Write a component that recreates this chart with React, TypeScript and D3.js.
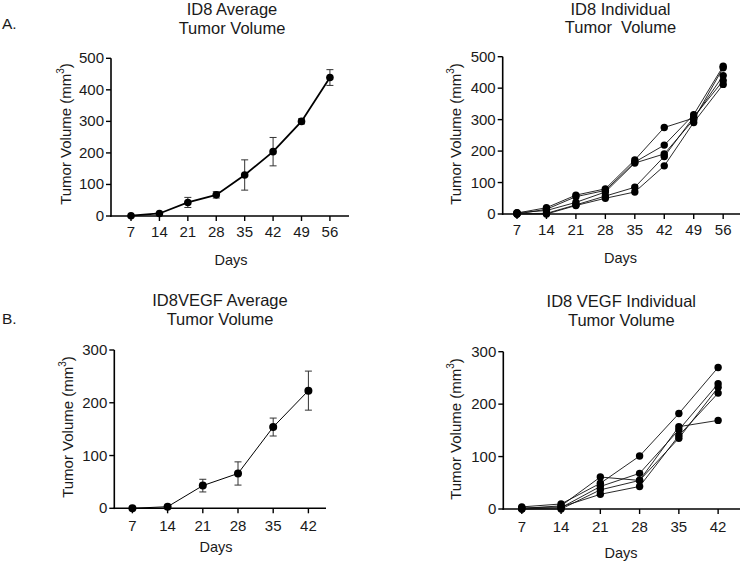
import React from "react";
import * as d3 from "d3";

// ---------- data ----------
const daysID8 = [7, 14, 21, 28, 35, 42, 49, 56];
const id8Mean = [1, 8, 43, 67, 130, 204, 300, 439];
const id8Err = [1, 3, 16, 10, 48, 45, 8, 25];
const id8Individual = [
  [3, 20, 60, 80, 172, 275, 305, 440],
  [0, 15, 55, 75, 165, 219, 316, 470],
  [4, 11, 37, 70, 162, 191, 300, 465],
  [1, 2, 29, 57, 85, 183, 308, 424],
  [0, 0, 27, 50, 70, 153, 291, 412],
];

const daysVEGF = [7, 14, 21, 28, 35, 42];
const vegfMean = [0, 3, 43, 66, 154, 223];
const vegfErr = [0, 1, 12, 22, 17, 37];
const vegfIndividual = [
  [4, 9.6, 49, 101, 182, 270],
  [1, 6, 61, 54.5, 157, 169],
  [0, 2.5, 43, 68, 151, 239],
  [0, 0, 36.5, 54.5, 135, 232],
  [2, 4, 28, 43, 140, 221],
];

const yTicksID8 = [0, 100, 200, 300, 400, 500];
const yTicksVEGF = [0, 100, 200, 300];

const FONT = "'Liberation Sans', Arial, sans-serif";
const TXT = "#1a1a1a";

type PanelProps = {
  days: number[];
  xDomain: [number, number];
  xRange: [number, number];
  yMax: number;
  yRange: [number, number];
  yTicks: number[];
  title1: string;
  title2: string;
  titleX: number;
  title1Y: number;
  title2Y: number;
  daysX: number;
  daysY: number;
  yLabelX: number;
  yLabelY: number;
  xLabelY: number;
  mean?: number[];
  err?: number[];
  individual?: number[][];
  lineWidth: number;
  r: number;
};

function Panel(p: PanelProps) {
  const x = d3.scaleLinear().domain(p.xDomain).range(p.xRange);
  const y = d3.scaleLinear().domain([0, p.yMax]).range(p.yRange);
  const line = d3
    .line<number>()
    .x((_, i) => x(p.days[i]))
    .y((v) => y(v));
  const x0 = p.xRange[0];
  const y0 = y(0);
  return (
    <g>
      {/* titles */}
      <text x={p.titleX} y={p.title1Y} textAnchor="middle" fontSize={16.5} fontFamily={FONT} fill={TXT}>
        {p.title1}
      </text>
      <text x={p.titleX} y={p.title2Y} textAnchor="middle" fontSize={16.5} fontFamily={FONT} fill={TXT} style={{ whiteSpace: "pre" }}>
        {p.title2}
      </text>
      {/* axes */}
      <line x1={x0} x2={x0} y1={y(p.yMax)} y2={y0 + 0.8} stroke="#000" strokeWidth={1.6} />
      <line x1={x0 - 0.8} x2={p.xRange[1]} y1={y0} y2={y0} stroke="#000" strokeWidth={1.6} />
      {p.yTicks.map((t) => (
        <g key={"y" + t}>
          <line x1={x0 - 5} x2={x0} y1={y(t)} y2={y(t)} stroke="#000" strokeWidth={1.4} />
          <text x={x0 - 7} y={y(t) + 5} textAnchor="end" fontSize={15} fontFamily={FONT} fill={TXT}>
            {t}
          </text>
        </g>
      ))}
      {p.days.map((d) => (
        <g key={"x" + d}>
          <line x1={x(d)} x2={x(d)} y1={y0} y2={y0 + 5} stroke="#000" strokeWidth={1.4} />
          <text x={x(d)} y={p.xLabelY} textAnchor="middle" fontSize={15} fontFamily={FONT} fill={TXT}>
            {d}
          </text>
        </g>
      ))}
      <text x={p.daysX} y={p.daysY} textAnchor="middle" fontSize={14.5} fontFamily={FONT} fill={TXT}>
        Days
      </text>
      <text
        transform={`translate(${p.yLabelX},${p.yLabelY}) rotate(-90)`}
        textAnchor="middle"
        fontSize={15}
        fontFamily={FONT}
        fill={TXT}
      >
        Tumor Volume (mm
        <tspan fontSize={10} dy={-7}>3</tspan>
        <tspan dy={7}>)</tspan>
      </text>
      {/* data */}
      {p.individual &&
        p.individual.map((s, k) => (
          <g key={"m" + k}>
            <path d={line(s) || ""} fill="none" stroke="#111" strokeWidth={p.lineWidth} />
            {s.map((v, i) => (
              <circle key={i} cx={x(p.days[i])} cy={y(v)} r={p.r} fill="#000" />
            ))}
          </g>
        ))}
      {p.mean && (
        <g>
          {p.err &&
            p.mean.map((v, i) => {
              const e = p.err![i];
              if (e < 2) return null;
              const cx = x(p.days[i]);
              return (
                <g key={"e" + i} stroke="#333" strokeWidth={1}>
                  <line x1={cx} x2={cx} y1={y(v - e)} y2={y(v + e)} />
                  <line x1={cx - 3.5} x2={cx + 3.5} y1={y(v - e)} y2={y(v - e)} />
                  <line x1={cx - 3.5} x2={cx + 3.5} y1={y(v + e)} y2={y(v + e)} />
                </g>
              );
            })}
          <path d={line(p.mean) || ""} fill="none" stroke="#000" strokeWidth={p.lineWidth} />
          {p.mean.map((v, i) => (
            <circle key={"c" + i} cx={x(p.days[i])} cy={y(v)} r={p.r} fill="#000" />
          ))}
        </g>
      )}
    </g>
  );
}

export default function App() {
  return (
    <svg
      width={740}
      height={563}
      style={{ position: "absolute", left: 0, top: 0, background: "#fff" }}
    >
      <rect width={740} height={563} fill="#fff" />
      <text x={2} y={28.5} fontSize={15.5} fontFamily={FONT} fill={TXT}>
        A.
      </text>
      <text x={2} y={323.5} fontSize={15.5} fontFamily={FONT} fill={TXT}>
        B.
      </text>
      <Panel
        days={daysID8}
        xDomain={[2.07, 60.7]}
        xRange={[111, 349]}
        yMax={500}
        yRange={[216, 58.3]}
        yTicks={yTicksID8}
        title1="ID8 Average"
        title2="Tumor Volume"
        titleX={232}
        title1Y={15}
        title2Y={33.5}
        daysX={231}
        daysY={265}
        yLabelX={71}
        yLabelY={134}
        xLabelY={237}
        mean={id8Mean}
        err={id8Err}
        lineWidth={1.8}
        r={3.8}
      />
      <Panel
        days={daysID8}
        xDomain={[3.6, 60]}
        xRange={[502.7, 740]}
        yMax={500}
        yRange={[214, 56.7]}
        yTicks={yTicksID8}
        title1="ID8 Individual"
        title2="Tumor  Volume"
        titleX={620.5}
        title1Y={15}
        title2Y={32.5}
        daysX={620.5}
        daysY={263.3}
        yLabelX={461}
        yLabelY={134}
        xLabelY={235}
        individual={id8Individual}
        lineWidth={0.9}
        r={3.7}
      />
      <Panel
        days={daysVEGF}
        xDomain={[3.4, 45.5]}
        xRange={[114.3, 326]}
        yMax={300}
        yRange={[508.3, 350]}
        yTicks={yTicksVEGF}
        title1="ID8VEGF Average"
        title2="Tumor Volume"
        titleX={220}
        title1Y={306}
        title2Y={325}
        daysX={216}
        daysY={551.7}
        yLabelX={73}
        yLabelY={427}
        xLabelY={530.7}
        mean={vegfMean}
        err={vegfErr}
        lineWidth={1}
        r={4}
      />
      <Panel
        days={daysVEGF}
        xDomain={[3.7, 45.9]}
        xRange={[503.3, 740]}
        yMax={300}
        yRange={[509, 351.7]}
        yTicks={yTicksVEGF}
        title1="ID8 VEGF Individual"
        title2="Tumor Volume"
        titleX={621.3}
        title1Y={307.3}
        title2Y={326}
        daysX={621}
        daysY={558.3}
        yLabelX={461}
        yLabelY={429}
        xLabelY={532.3}
        individual={vegfIndividual}
        lineWidth={0.9}
        r={3.7}
      />
    </svg>
  );
}
